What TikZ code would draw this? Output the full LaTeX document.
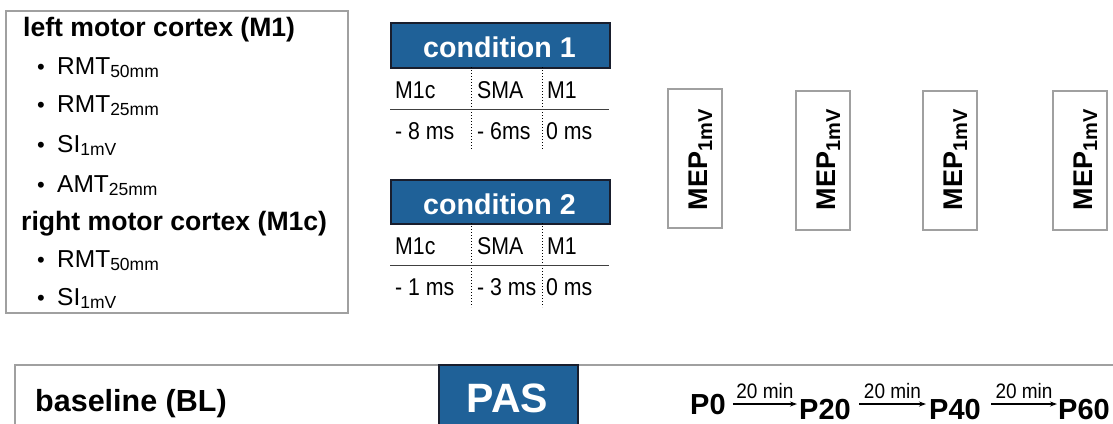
\documentclass[tikz,border=0pt]{standalone}
\usepackage{fontspec}
\setmainfont{Liberation Sans}
\usetikzlibrary{arrows.meta}
\definecolor{pasblue}{RGB}{31,97,152}
\definecolor{navyline}{RGB}{25,30,45}
\definecolor{boxgray}{RGB}{160,160,160}
\newcommand{\fs}[1]{\fontsize{#1}{#1}\selectfont}
\newcommand{\lsub}[1]{\raisebox{-3.5pt}{\fs{17.5}#1}}
\newcommand{\msub}[1]{\raisebox{-5pt}{\fs{20}\bfseries #1}}
\newcommand{\tall}[1]{\scalebox{1}[1.14]{#1}}
\begin{document}
\begin{tikzpicture}[x=1pt,y=-1pt,
  graybox/.style={draw=boxgray,line width=2pt,inner sep=0pt,anchor=north west},
  bluebox/.style={draw=navyline,fill=pasblue,line width=2pt,inner sep=0pt,anchor=north west},
  txt/.style={inner sep=0pt,anchor=base west},
  hdr/.style={txt,font=\fs{26.6}\bfseries},
  item/.style={txt,font=\fs{24.5}},
  bul/.style={txt,font=\fs{22}},
  cell/.style={txt,font=\fs{21.3}},
  condtitle/.style={inner sep=0pt,anchor=base,font=\fs{28.6}\bfseries,text=white},
  meptext/.style={inner sep=0pt,anchor=base,rotate=90,font=\fs{27}\bfseries},
  ptext/.style={txt,font=\fs{29}\bfseries},
  arr/.style={line width=1.1pt,-{Stealth[length=7pt,width=5pt]}},
  lbl/.style={inner sep=0pt,anchor=base,font=\fs{19}},
  hline/.style={line width=1pt,draw=black!75},
  vdot/.style={line width=1pt,dotted}
]
\useasboundingbox (0,0) rectangle (1113,423);
\clip (0,0) rectangle (1113,423);

% left box
\node[graybox,minimum width=342pt,minimum height=302pt] (leftbox) at (5,10) {};
\node[hdr] (h1) at (23,36) {left motor cortex (M1)};
\node[bul] (b1) at (37,74) {•};  \node[item] (i1) at (57,74) {RMT\lsub{50mm}};
\node[bul] (b2) at (37,112) {•}; \node[item] (i2) at (57,112) {RMT\lsub{25mm}};
\node[bul] (b3) at (37,152) {•}; \node[item] (i3) at (57,152) {SI\lsub{1mV}};
\node[bul] (b4) at (37,192) {•}; \node[item] (i4) at (57,192) {AMT\lsub{25mm}};
\node[hdr] (h2) at (21,230) {right motor cortex (M1c)};
\node[bul] (b5) at (37,267) {•}; \node[item] (i5) at (57,267) {RMT\lsub{50mm}};
\node[bul] (b6) at (37,305) {•}; \node[item] (i6) at (57,305) {SI\lsub{1mV}};

% condition 1
\node[bluebox,minimum width=219pt,minimum height=45pt] (c1) at (390,22) {};
\node[condtitle] (c1t) at (499.5,57) {condition 1};
\draw[vdot] (471,67) -- (471,150);
\draw[vdot] (542,67) -- (542,150);
\draw[hline] (390,109) -- (609,109);
\node[cell] (c1a) at (395,98) {\tall{M1c}};
\node[cell] (c1b) at (477,98) {\tall{SMA}};
\node[cell] (c1c) at (547,98) {\tall{M1}};
\node[cell] (c1d) at (395,139) {\tall{- 8 ms}};
\node[cell] (c1e) at (477,139) {\tall{- 6ms}};
\node[cell] (c1f) at (546,139) {\tall{0 ms}};

% condition 2
\node[bluebox,minimum width=219pt,minimum height=44pt] (c2) at (390,179) {};
\node[condtitle] (c2t) at (499.5,214) {condition 2};
\draw[vdot] (471,223) -- (471,307);
\draw[vdot] (542,223) -- (542,307);
\draw[hline] (390,265) -- (609,265);
\node[cell] (c2a) at (395,254) {\tall{M1c}};
\node[cell] (c2b) at (477,254) {\tall{SMA}};
\node[cell] (c2c) at (547,254) {\tall{M1}};
\node[cell] (c2d) at (395,295) {\tall{- 1 ms}};
\node[cell] (c2e) at (477,295) {\tall{- 3 ms}};
\node[cell] (c2f) at (546,295) {\tall{0 ms}};

% MEP boxes
\node[graybox,minimum width=54pt,minimum height=139pt] (m1) at (667,88) {};
\node[graybox,minimum width=54pt,minimum height=139pt] (m2) at (795,90) {};
\node[graybox,minimum width=54pt,minimum height=139pt] (m3) at (922,90) {};
\node[graybox,minimum width=54pt,minimum height=139pt] (m4) at (1052,90) {};
\node[meptext] (m1t) at (707,160) {MEP\msub{1mV}};
\node[meptext] (m2t) at (835,160) {MEP\msub{1mV}};
\node[meptext] (m3t) at (962,160) {MEP\msub{1mV}};
\node[meptext] (m4t) at (1092,160) {MEP\msub{1mV}};

% bottom timeline
\node[graybox,minimum width=1130pt,minimum height=90pt] (bl) at (14,364) {};
\node[hdr,font=\fs{30.5}\bfseries] (blt) at (35,411) {baseline (BL)};
\node[bluebox,minimum width=139pt,minimum height=80pt] (pas) at (438,364) {};
\node[inner sep=0pt,anchor=base,font=\fs{41}\bfseries,text=white] (past) at (507.5,412) {PAS};

\node[ptext] (p0) at (690,414) {P0};
\node[ptext] (p20) at (799,419) {P20};
\node[ptext] (p40) at (929,419) {P40};
\node[ptext] (p60) at (1058,419) {P60};
\draw[arr] ([xshift=7pt]p0.east) -- ([xshift=-2pt]p20.west |- p0.east)
  node[lbl,midway,above=5pt] {\scalebox{1}[1.1]{20 min}};
\draw[arr] ([xshift=8pt]p20.east |- p0.east) -- ([xshift=-3pt]p40.west |- p0.east)
  node[lbl,midway,above=5pt] {\scalebox{1}[1.1]{20 min}};
\draw[arr] ([xshift=10pt]p40.east |- p0.east) -- ([xshift=-1pt]p60.west |- p0.east)
  node[lbl,midway,above=5pt] {\scalebox{1}[1.1]{20 min}};
\end{tikzpicture}
\end{document}
